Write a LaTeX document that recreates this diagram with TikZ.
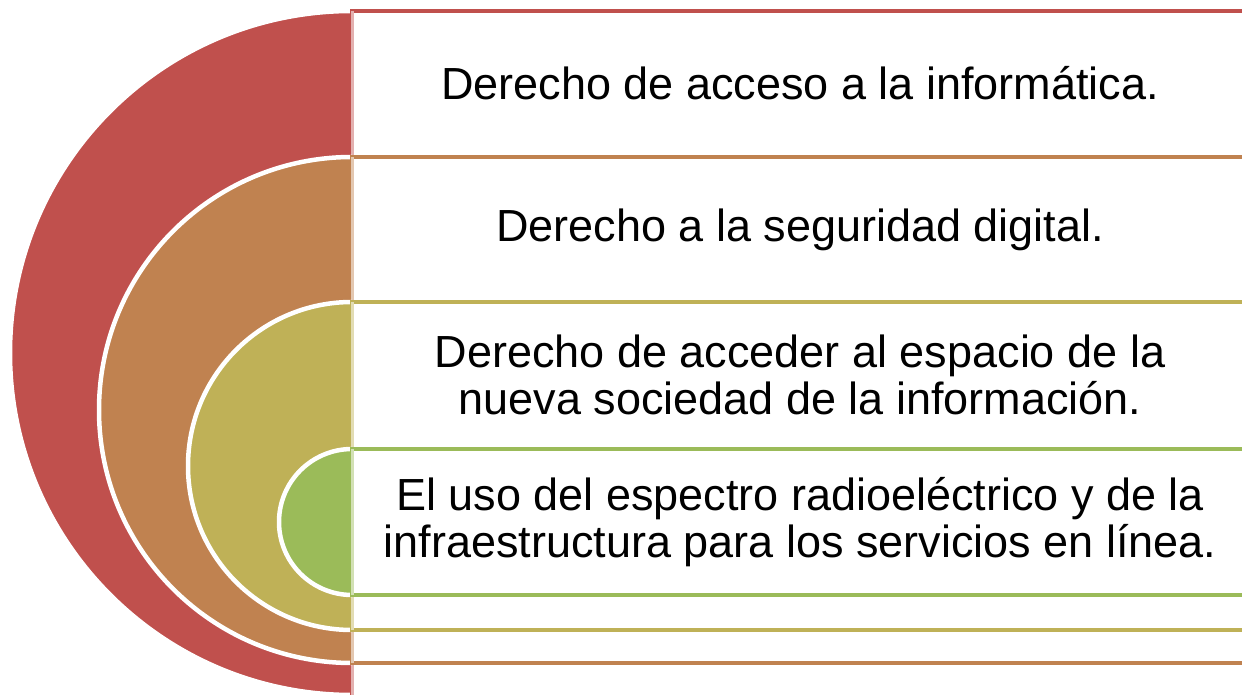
\documentclass[tikz,border=0pt]{standalone}
\usepackage{fontspec}
\setmainfont{Liberation Sans}
\usepackage{tikz}
\usetikzlibrary{calc}
\definecolor{levelone}{RGB}{192,80,77}
\definecolor{leveltwo}{RGB}{192,130,80}
\definecolor{levelthree}{RGB}{191,177,87}
\definecolor{levelfour}{RGB}{155,187,89}

\begin{document}
\begin{tikzpicture}[x=1pt, y=1pt]
            \tikzset{disc/.style={fill=#1, draw=white, line width=4.5pt}}
            \tikzset{band/.style={draw=#1, fill=white, line width=3.5pt}}
            \tikzset{rim/.style={draw=#1!45!white, line width=3pt}}
            \tikzset{label/.style={align=center, font=\fontsize{45}{46.5}\selectfont}}
            \useasboundingbox (0, 0) rectangle (1242, 694);
            % outer level
            \fill[disc=levelone] (352, 683) arc[start angle=90, end angle=270, radius=342] -- cycle;
            \draw[disc=levelone] (352, 683) arc[start angle=90, end angle=270, radius=342];
            \draw[band=levelone] (352, 683) rectangle (1250, -3);
            \draw[rim=levelone] (352, 683) -- (352, -3);
            % second level
            \draw[disc=leveltwo] (352, 537) arc[start angle=90, end angle=270, radius=253];
            \draw[band=leveltwo] (352, 537) rectangle (1250, 31);
            \draw[rim=leveltwo] (352, 537) -- (352, 31);
            % third level
            \draw[disc=levelthree] (352, 392) arc[start angle=90, end angle=270, radius=164];
            \draw[band=levelthree] (352, 392) rectangle (1250, 64);
            \draw[rim=levelthree] (352, 392) -- (352, 64);
            % inner level
            \draw[disc=levelfour] (352, 245) arc[start angle=90, end angle=270, radius=73];
            \draw[band=levelfour] (352, 245) rectangle (1250, 99);
            \draw[rim=levelfour] (352, 245) -- (352, 99);
            % texts
            \node[label] (acceso) at (800, 611) {Derecho de acceso a la informática.};
            \node[label] (seguridad) at (800, 464) {Derecho a la seguridad digital.};
            \node[label] (espacio) at (800, 319) {Derecho de acceder al espacio de la\\nueva sociedad de la información.};
            \node[label] (espectro) at (800, 172) {El uso del espectro radioeléctrico y de la\\infraestructura para los servicios en línea.};
\end{tikzpicture}
\end{document}
